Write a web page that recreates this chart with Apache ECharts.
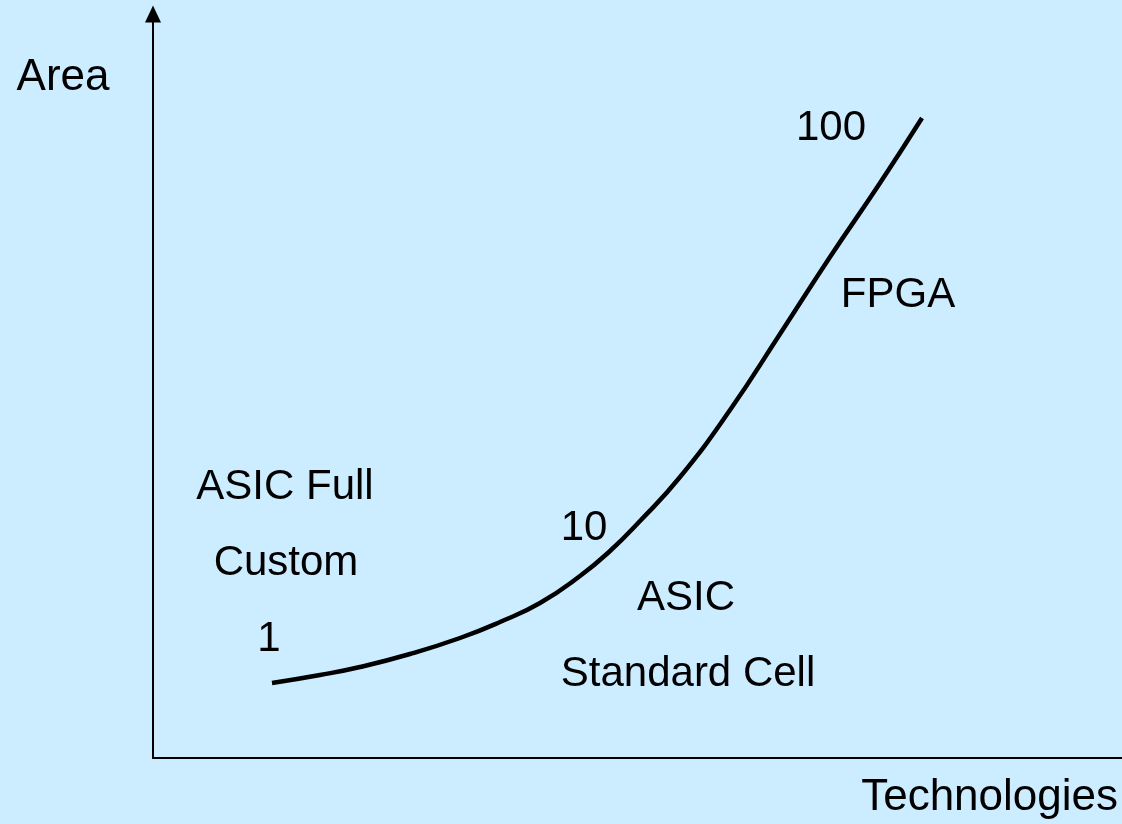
<!DOCTYPE html>
<html>
<head>
<meta charset="utf-8">
<script src="https://cdn.jsdelivr.net/npm/echarts@6/dist/echarts.min.js"></script>
<style>
html,body{margin:0;padding:0;background:#CCECFF;}
#chart{width:1122px;height:824px;}
</style>
</head>
<body>
<div id="chart"></div>
<script>
// Technology axis position (arbitrary units) and relative area (arbitrary units)
var techX = [119, 167, 207, 257, 307, 347, 387, 427, 457, 487, 527, 577, 627, 677, 727, 769];
var areaY = [75, 83, 91, 104, 120, 136, 155, 182, 207, 237, 281, 348, 424, 501, 575, 640];
var axisTitles = ['Area', 'Technologies'];
var annotationTexts = ['ASIC Full', 'Custom', '1', '10', 'ASIC', 'Standard Cell', '100', 'FPGA'];

var FONT = '"Liberation Sans", Arial, sans-serif';
function txt(t, x, y, size, align) {
  return {
    type: 'text', x: x, y: y, silent: true,
    style: { text: t, font: size + 'px ' + FONT, fill: '#000', align: align || 'center', verticalAlign: 'middle' }
  };
}

var chart = echarts.init(document.getElementById('chart'));
chart.setOption({
  backgroundColor: '#CCECFF',
  animation: false,
  grid: { left: 153, right: 0, top: 14, bottom: 66, containLabel: false },
  xAxis: {
    type: 'value', min: 0, max: 969,
    axisLine: { show: true, onZero: false, lineStyle: { color: '#000', width: 2 } },
    axisTick: { show: false }, axisLabel: { show: false }, splitLine: { show: false }
  },
  yAxis: {
    type: 'value', min: 0, max: 744,
    axisLine: { show: true, onZero: false, symbol: ['none', 'triangle'], symbolSize: [16, 17],
      lineStyle: { color: '#000', width: 2 } },
    axisTick: { show: false }, axisLabel: { show: false }, splitLine: { show: false }
  },
  series: [{
    type: 'line',
    data: techX.map(function (x, i) { return [x, areaY[i]]; }),
    smooth: 0.5,
    showSymbol: false,
    symbol: 'none',
    lineStyle: { color: '#000', width: 4.5, cap: 'butt', join: 'round' }
  }],
  graphic: [
    txt(axisTitles[0], 63, 78, 44),
    txt(axisTitles[1], 1118, 798, 44, 'right'),
    txt(annotationTexts[0], 285, 487, 42),
    txt(annotationTexts[1], 286, 563, 42),
    txt(annotationTexts[2], 269, 639, 42),
    txt(annotationTexts[3], 584, 528, 42),
    txt(annotationTexts[4], 686, 598, 42),
    txt(annotationTexts[5], 688, 674, 42),
    txt(annotationTexts[6], 831, 128, 42),
    txt(annotationTexts[7], 898, 295, 42)
  ]
});
</script>
</body>
</html>
